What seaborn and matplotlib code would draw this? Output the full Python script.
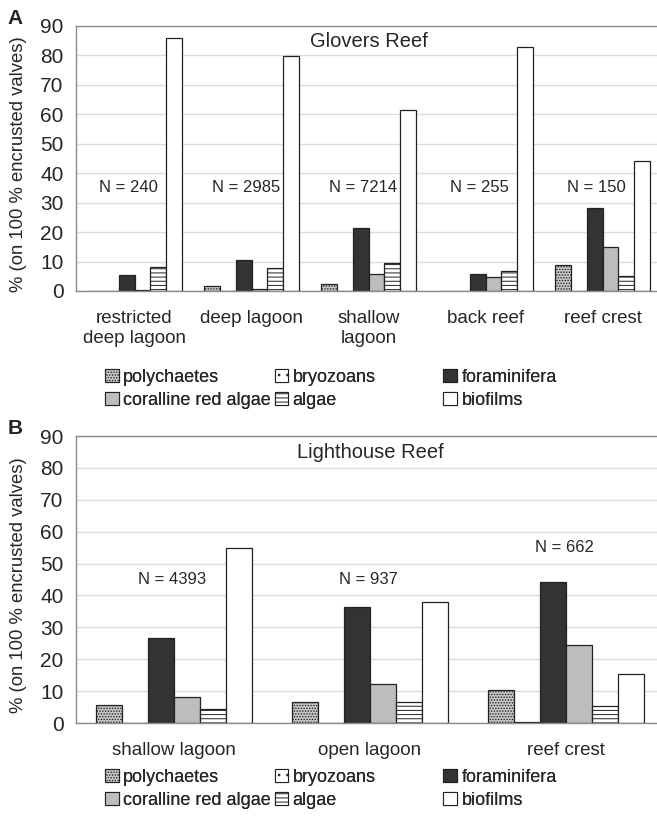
import numpy as np
import pandas as pd
import matplotlib
matplotlib.use("Agg")
import matplotlib.pyplot as plt
from matplotlib.patches import Patch
import seaborn as sns

# encruster groups (legend order)
groups = ["polychaetes", "bryozoans", "foraminifera",
          "coralline red algae", "algae", "biofilms"]

# Panel A - Glovers Reef
glovers_sites = ["restricted\ndeep lagoon", "deep lagoon", "shallow\nlagoon",
                 "back reef", "reef crest"]
glovers_n = [240, 2985, 7214, 255, 150]
glovers_poly = [0, 1.8, 2.5, 0, 8.8]
glovers_bryo = [0, 0, 0, 0, 0]
glovers_foram = [5.6, 10.6, 21.3, 5.9, 28.1]
glovers_coral = [0.5, 0.7, 5.9, 4.9, 14.9]
glovers_algae = [8.0, 7.9, 9.5, 6.9, 5.0]
glovers_bio = [86.0, 79.8, 61.6, 83.0, 44.0]
glovers_n_y = [35, 35, 35, 35, 35]

# Panel B - Lighthouse Reef
lighthouse_sites = ["shallow lagoon", "open lagoon", "reef crest"]
lighthouse_n = [4393, 937, 662]
lighthouse_poly = [5.8, 6.6, 10.5]
lighthouse_bryo = [0, 0, 0.2]
lighthouse_foram = [26.7, 36.4, 44.1]
lighthouse_coral = [8.0, 12.1, 24.4]
lighthouse_algae = [4.5, 6.6, 5.2]
lighthouse_bio = [54.9, 37.9, 15.5]
lighthouse_n_y = [45, 45, 55]

faces = ["#c8c8c8", "#ffffff", "#333333", "#bdbdbd", "#ffffff", "#ffffff"]
hatches = ["......", "..", None, None, "----", None]
EDGE = "#222222"
SPINE = "#8c8c8c"

sns.set_style("white")
plt.rcParams["font.family"] = ["Liberation Sans", "DejaVu Sans"]
plt.rcParams["hatch.linewidth"] = 0.7


def long_frame(sites, series):
    rows = []
    for g, vals in zip(groups, series):
        for s, v in zip(sites, vals):
            rows.append({"site": s, "group": g, "pct": v})
    return pd.DataFrame(rows)


def draw_panel(ax, sites, series, counts, n_y, title, width, n_dx):
    df = long_frame(sites, series)
    sns.barplot(data=df, x="site", y="pct", hue="group", order=sites,
                hue_order=groups, palette=dict(zip(groups, faces)),
                saturation=1, width=width, edgecolor=EDGE, linewidth=0.9,
                legend=False, ax=ax)
    for cont, h in zip(ax.containers, hatches):
        for bar in cont:
            if h:
                bar.set_hatch(h)

    ax.set_ylim(0, 90)
    ax.set_xlim(-0.5, len(sites) - 0.5)
    ax.set_yticks(range(0, 91, 10))
    ax.tick_params(axis="y", length=0, pad=9, labelsize=15)
    ax.tick_params(axis="x", which="major", length=0, pad=14, labelsize=13.5)
    ax.set_xticks(np.arange(-0.5, len(sites)), minor=True)
    ax.tick_params(axis="x", which="minor", length=5, color="#b0b0b0", width=0.8)
    for lab in ax.get_xticklabels():
        lab.set_linespacing(1.2)
    ax.yaxis.grid(True, color="#dcdcdc", lw=1)
    ax.set_axisbelow(True)
    for sp in ax.spines.values():
        sp.set_color(SPINE)
        sp.set_linewidth(1)
    ax.set_xlabel("")
    ax.set_ylabel("% (on 100 % encrusted valves)", fontsize=13.3)
    # label's right edge sits ~27 px from the figure edge
    ax.yaxis.set_label_coords(-49 / (ax.get_position().width * 657), 0.48)

    for i, (n, y) in enumerate(zip(counts, n_y)):
        ax.text(i + n_dx, y, f"N = {n}", ha="center", va="center", fontsize=12)
    ax.text(0.5, 0.942, title, transform=ax.transAxes, ha="center",
            va="center", fontsize=14.5)


def draw_legend(fig, y):
    handles = [Patch(facecolor=f, edgecolor=EDGE, hatch=h, linewidth=0.8)
               for f, h in zip(faces, hatches)]
    cols = [(0.160, [0, 3]), (0.418, [1, 4]), (0.675, [2, 5])]
    for x, idx in cols:
        leg = fig.legend([handles[i] for i in idx], [groups[i] for i in idx],
                         loc="center left", bbox_to_anchor=(x, y),
                         frameon=False, fontsize=13, handlelength=0.75,
                         handleheight=0.75, handletextpad=0.25,
                         labelspacing=0.35, borderpad=0, borderaxespad=0)
        fig.add_artist(leg)


fig = plt.figure(figsize=(6.57, 8.21), dpi=100)

ax_a = fig.add_axes([76 / 657, 1 - 291 / 821, 585 / 657, 265 / 821])
draw_panel(ax_a, glovers_sites,
           [glovers_poly, glovers_bryo, glovers_foram,
            glovers_coral, glovers_algae, glovers_bio],
           glovers_n, glovers_n_y, "Glovers Reef", 0.82, -0.05)

ax_b = fig.add_axes([76 / 657, 1 - 723 / 821, 588 / 657, 287 / 821])
draw_panel(ax_b, lighthouse_sites,
           [lighthouse_poly, lighthouse_bryo, lighthouse_foram,
            lighthouse_coral, lighthouse_algae, lighthouse_bio],
           lighthouse_n, lighthouse_n_y, "Lighthouse Reef", 0.8, -0.01)

draw_legend(fig, 1 - 389 / 821)
draw_legend(fig, 1 - 789 / 821)

fig.text(15 / 657, 1 - 19 / 821, "A", fontsize=15, fontweight="bold",
         ha="center", va="center")
fig.text(15 / 657, 1 - 428 / 821, "B", fontsize=15, fontweight="bold",
         ha="center", va="center")

fig.savefig("out.png", dpi=100)
